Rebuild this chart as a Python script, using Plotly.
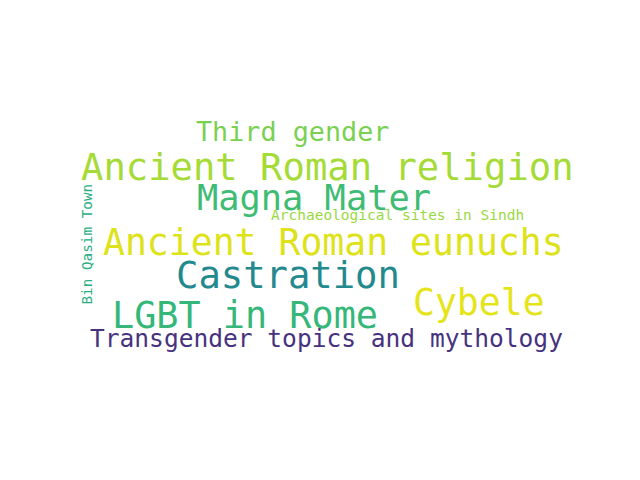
import plotly.graph_objects as go

# ---- data: words and their relative weights (from the word cloud) ----
words = [
    "Ancient Roman religion",
    "Castration",
    "LGBT in Rome",
    "Ancient Roman eunuchs",
    "Cybele",
    "Magna Mater",
    "Third gender",
    "Transgender topics and mythology",
    "Archaeological sites in Sindh",
    "Bin Qasim Town",
]
weights = [1.00, 1.00, 0.99, 0.98, 0.98, 0.95, 0.72, 0.66, 0.39, 0.385]

# ---- layout of the cloud (pixel positions of each word centre, rotation, colour) ----
pos_x = [327.5, 287.5, 245, 333, 479, 314, 292.5, 326, 397.5, 86]
pos_y = [167, 275, 315.5, 242, 302.5, 197.5, 131.5, 338.5, 214.5, 244.5]
angles = [0, 0, 0, 0, 0, 0, 0, 0, 0, -90]
colors = ["#a5db36", "#23898e", "#35b779", "#dde318", "#e5e419",
          "#3fbc73", "#7ad151", "#46327e", "#9ad93f", "#29af7f"]
MAX_FONT = 37.2

fig = go.Figure()
fig.add_trace(go.Scatter(x=[100, 500], y=[100, 400], mode="markers",
                         marker=dict(opacity=0), hoverinfo="skip", showlegend=False))

for w, wt, x, y, a, c in zip(words, weights, pos_x, pos_y, angles, colors):
    fig.add_annotation(x=x, y=y, xref="x", yref="y", text=w, showarrow=False,
                       textangle=a, xanchor="center", yanchor="middle",
                       font=dict(family="DejaVu Sans Mono", size=MAX_FONT * wt, color=c))

# page body has an 8px margin; shift ranges so coordinates match window pixels
fig.update_xaxes(range=[8, 648], visible=False, fixedrange=True)
fig.update_yaxes(range=[488, 8], visible=False, fixedrange=True)
fig.update_layout(width=640, height=480, margin=dict(l=0, r=0, t=0, b=0),
                  paper_bgcolor="white", plot_bgcolor="white", showlegend=False)
fig.write_html("out.html")
